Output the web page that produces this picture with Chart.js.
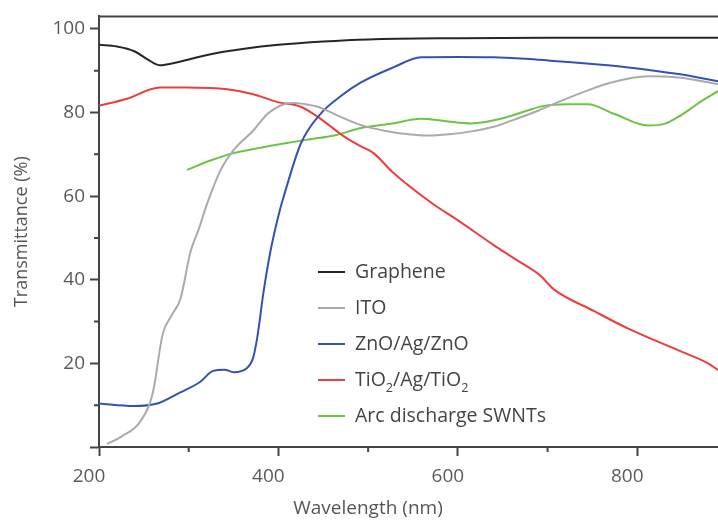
<!DOCTYPE html>
<html>
<head>
<meta charset="utf-8">
<script src="https://cdn.jsdelivr.net/npm/chart.js@4"></script>
<style>
  body { margin: 0; background: #fff; }
  #wrap { position: relative; width: 718px; height: 524px; font-family: "Open Sans", sans-serif; }
  #legend { position: absolute; left: 318px; top: 0; }
  .item { position: absolute; left: 0; white-space: nowrap; font-size: 19.5px; color: #444; line-height: 24px; }
  .item span.sw { display: inline-block; width: 27px; height: 2px; vertical-align: middle; margin-right: 10px; position: relative; top: -1px; }
  .item sub { font-size: 0.65em; line-height: 0; position: relative; top: 0.1em; }
  #xtitle { position: absolute; left: 368px; top: 494px; transform: translateX(-50%); font-size: 19px; color: #555; white-space: nowrap; }
</style>
</head>
<body>
<div id="wrap">
  <canvas id="chart" width="718" height="524"></canvas>
  <div id="legend"></div>
  <div id="xtitle">Wavelength (nm)</div>
</div>
<script>
// series labels + colours
const labels = ['Graphene', 'ITO', 'ZnO/Ag/ZnO', 'TiO₂/Ag/TiO₂', 'Arc discharge SWNTs'];
const colors = ['#262626', '#aaaaaa', '#3452b4', '#f03c3c', '#6cc444'];

// wavelength (nm) / transmittance (%)
const grapheneX = [200, 220, 240, 255, 268, 285, 300, 330, 360, 400, 450, 500, 600, 700, 800, 890];
const grapheneY = [96.2, 95.8, 94.6, 92.6, 91.3, 91.9, 92.7, 94.2, 95.2, 96.2, 97.0, 97.5, 97.8, 97.9, 97.9, 97.9];

const itoX = [209, 225, 246, 260, 271, 281, 291, 302, 311, 321, 335, 350, 372, 388, 406, 417, 430, 444, 462, 492, 520, 545, 567, 590, 615, 640, 659, 690, 715, 745, 771, 812, 846, 890];
const itoY = [0.7, 2.5, 6.1, 13, 27, 31.5, 35.6, 46.7, 52, 58.5, 66, 71, 75.7, 79.7, 82, 82.3, 82, 81.4, 79.7, 77, 75.6, 74.8, 74.5, 74.8, 75.5, 76.6, 78, 80.5, 82.8, 85.3, 87.2, 88.7, 88.4, 86.8];

const znoX = [200, 238, 265, 290, 313, 327, 340, 350, 365, 372, 377, 383, 391, 402, 406, 425, 447, 470, 492, 528, 559, 600, 640, 680, 715, 750, 790, 846, 890];
const znoY = [10.4, 9.8, 10.4, 13, 15.6, 18.2, 18.5, 17.9, 18.9, 21.5, 27, 36.5, 46.7, 57, 60, 72.6, 79.7, 84, 87.2, 90.8, 93.2, 93.3, 93.2, 92.8, 92.2, 91.6, 90.8, 89.2, 87.5];

const tioX = [200, 231, 268, 298, 343, 372, 399, 425, 447, 473, 492, 506, 528, 570, 603, 640, 665, 693, 700, 707, 752, 790, 846, 879, 890];
const tioY = [81.6, 83.3, 86, 86, 85.6, 84.4, 82.5, 81.4, 78.5, 74.3, 71.9, 70.3, 65.6, 58.5, 53.8, 48.3, 44.8, 40.8, 39.2, 37.7, 32.5, 28.3, 23.1, 20, 18.4];

const swntX = [298, 325, 350, 380, 406, 435, 462, 492, 525, 559, 585, 615, 648, 675, 696, 720, 745, 774, 812, 830, 846, 860, 872, 890];
const swntY = [66.3, 68.6, 70.3, 71.6, 72.6, 73.6, 74.5, 76.3, 77.3, 78.5, 78.0, 77.4, 78.5, 80.3, 81.6, 82.0, 82.0, 79.7, 76.9, 77.3, 79, 81, 82.8, 85.1];

// minor tick positions
const xMinor = [300, 500, 700];
const yMinor = [10, 30, 50, 70, 90];

const seriesX = [grapheneX, itoX, znoX, tioX, swntX];
const seriesY = [grapheneY, itoY, znoY, tioY, swntY];

function zip(xs, ys) {
  return xs.map((x, i) => ({ x: x, y: ys[i] }));
}

const datasets = labels.map((l, i) => ({
  label: l,
  data: zip(seriesX[i], seriesY[i]),
  borderColor: colors[i],
  borderWidth: 2,
  pointRadius: 0,
  fill: false,
  cubicInterpolationMode: 'monotone'
}));

// legend (html, inside plot) - subscripts shown lowered like the original
const leg = document.getElementById('legend');
labels.forEach((l, i) => {
  let d = document.createElement('div');
  d.className = 'item';
  d.style.top = (259 + i * 36) + 'px';
  d.innerHTML = '<span class="sw" style="background:' + colors[i] + '"></span>' + l.replace(/₂/g, '<sub>2</sub>');
  leg.appendChild(d);
});

// minor ticks and top frame line
const frame = {
  id: 'frame',
  afterDraw(chart) {
    const c = chart.ctx, a = chart.chartArea;
    const xs = chart.scales.x, ys = chart.scales.y;
    c.save();
    c.strokeStyle = '#444';
    c.lineWidth = 2;
    c.beginPath();
    c.moveTo(a.left - 1, a.top);
    c.lineTo(a.right, a.top);
    xMinor.forEach(v => {
      let p = xs.getPixelForValue(v);
      c.moveTo(p, a.bottom);
      c.lineTo(p, a.bottom + 5);
    });
    yMinor.forEach(v => {
      let p = ys.getPixelForValue(v);
      c.moveTo(a.left, p);
      c.lineTo(a.left - 5, p);
    });
    c.stroke();
    c.restore();
  }
};

const tickFont = { family: 'Open Sans', size: 19 };

new Chart(document.getElementById('chart'), {
  type: 'line',
  data: { datasets: datasets },
  options: {
    responsive: false,
    animation: false,
    layout: { padding: { top: 11, right: 0, left: 0, bottom: 0 } },
    plugins: { legend: { display: false }, tooltip: { enabled: false } },
    scales: {
      x: {
        type: 'linear',
        min: 200,
        max: 890,
        afterFit: s => { s.height = 77; },
        border: { display: true, color: '#444', width: 2 },
        grid: { drawOnChartArea: false, drawTicks: true, tickLength: 9, color: '#444', tickWidth: 2 },
        ticks: { stepSize: 200, includeBounds: false, padding: 9, labelOffset: -10, color: '#5a5a5a', font: tickFont, maxRotation: 0 }
      },
      y: {
        min: 0,
        max: 103,
        afterFit: s => { s.width = 99; },
        border: { display: true, color: '#444', width: 2 },
        grid: { drawOnChartArea: false, drawTicks: true, tickLength: 9, color: '#444', tickWidth: 2 },
        ticks: {
          stepSize: 20,
          includeBounds: false,
          padding: 5,
          color: '#5a5a5a',
          font: tickFont,
          callback: v => (v === 0 ? '' : v)
        },
        title: {
          display: true,
          text: 'Transmittance (%)',
          color: '#555',
          font: { family: 'Open Sans', size: 18 },
          padding: { top: 11, bottom: 0 }
        }
      }
    }
  },
  plugins: [frame]
});
</script>
</body>
</html>
